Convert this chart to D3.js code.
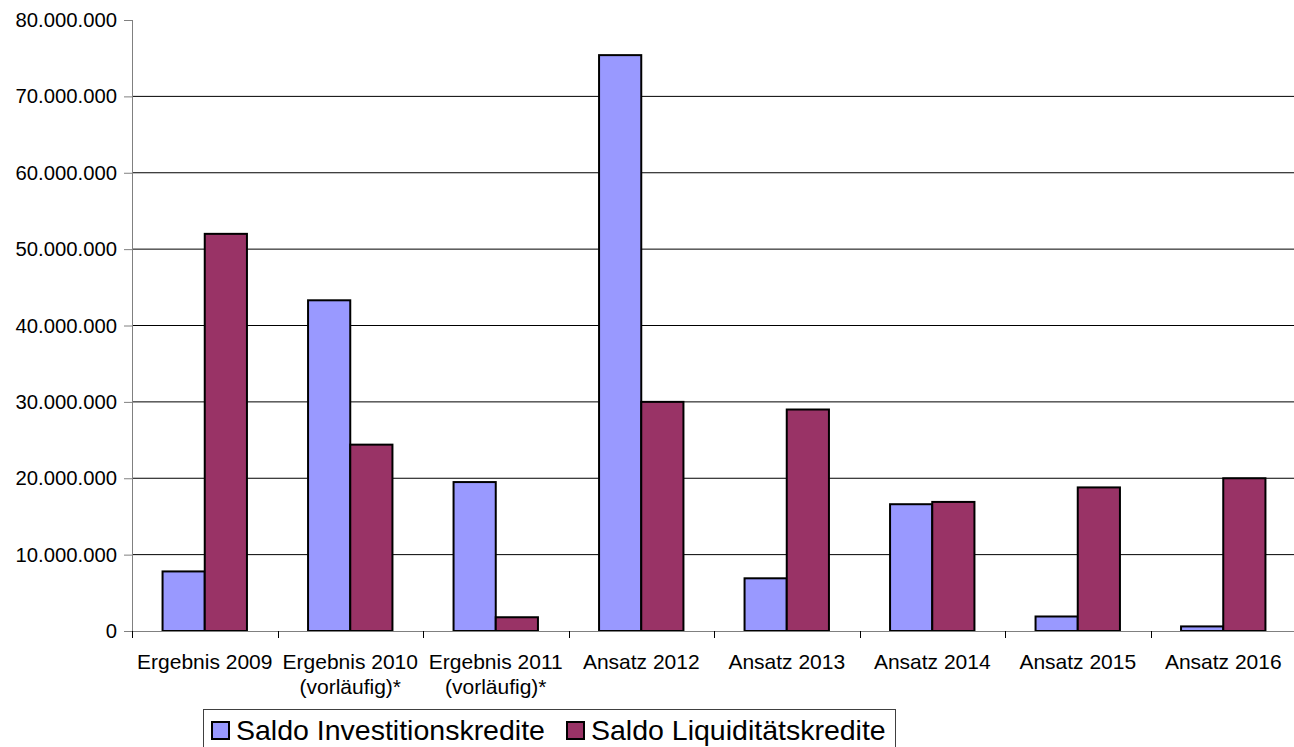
<!DOCTYPE html>
<html>
<head>
<meta charset="utf-8">
<script src="https://cdn.jsdelivr.net/npm/d3@7"></script>
<style>
  body { margin: 0; background: #fff; }
  svg { display: block; font-family: "Liberation Sans", Arial, sans-serif; }
</style>
</head>
<body>
<div id="chart"></div>
<script>
var categories = [["Ergebnis 2009"], ["Ergebnis 2010", "(vorläufig)*"], ["Ergebnis 2011", "(vorläufig)*"],
  ["Ansatz 2012"], ["Ansatz 2013"], ["Ansatz 2014"], ["Ansatz 2015"], ["Ansatz 2016"]];
var seriesNames = ["Saldo Investitionskredite", "Saldo Liquiditätskredite"];
var investition = [7800000, 43300000, 19500000, 75400000, 6900000, 16600000, 1900000, 600000];
var liquiditaet = [52000000, 24400000, 1800000, 30000000, 29000000, 16900000, 18800000, 20000000];
var yTicks = [0, 10000000, 20000000, 30000000, 40000000, 50000000, 60000000, 70000000, 80000000];
var colors = ["#9999ff", "#993366"];

var W = 1294, H = 747;
var margin = {top: 20, right: -2, bottom: 116, left: 132},
  width = W - margin.left - margin.right,
  height = H - margin.top - margin.bottom;

var de = d3.formatLocale({decimal: ",", thousands: ".", grouping: [3], currency: ["", "€"]});
var fmt = de.format(",.0f");

var svg = d3.select("#chart").append("svg")
  .attr("width", W)
  .attr("height", H);
var g = svg.append("g")
  .attr("transform", "translate(" + margin.left + "," + margin.top + ")");

var x0 = d3.scaleBand()
  .domain(d3.range(categories.length))
  .range([0, width])
  .padding(0);

var x1 = d3.scaleBand()
  .domain([0, 1])
  .range([x0.bandwidth() * 0.21, x0.bandwidth() * 0.79]);

var y = d3.scaleLinear()
  .domain([0, 80000000])
  .range([height, 0]);

// gridlines
g.append("g").selectAll("line")
  .data(yTicks.filter(function(d) { return d > 0 && d < 80000000; }))
  .enter().append("line")
  .attr("x1", 0).attr("x2", width)
  .attr("y1", function(d) { return y(d); })
  .attr("y2", function(d) { return y(d); })
  .attr("stroke", "#000")
  .attr("stroke-width", 1);

// y axis
var yAxis = g.append("g")
  .call(d3.axisLeft(y).tickValues(yTicks).tickFormat(fmt).tickSize(8).tickPadding(7));
yAxis.select(".domain").attr("stroke", "#808080").attr("d", "M0.5," + height + "V0");
yAxis.selectAll(".tick line").attr("stroke", "#808080");
yAxis.selectAll("text").attr("font-size", "20.3px").attr("fill", "#000")
  .attr("font-family", "Liberation Sans, Arial, sans-serif");

// bars
var data = categories.map(function(c, i) { return [investition[i], liquiditaet[i]]; });
var groups = g.append("g").selectAll("g")
  .data(data)
  .enter().append("g")
  .attr("transform", function(d, i) { return "translate(" + x0(i) + ",0)"; });
groups.selectAll("rect")
  .data(function(d) { return d; })
  .enter().append("rect")
  .attr("x", function(d, j) { return x1(j); })
  .attr("width", x1.bandwidth())
  .attr("y", function(d) { return y(d); })
  .attr("height", function(d) { return height - y(d); })
  .attr("fill", function(d, j) { return colors[j]; })
  .attr("stroke", "#000")
  .attr("stroke-width", 2);

// x axis
var xg = g.append("g").attr("transform", "translate(0," + height + ")");
xg.append("line")
  .attr("x1", 0).attr("x2", width)
  .attr("y1", 0.5).attr("y2", 0.5)
  .attr("stroke", "#808080");
xg.selectAll(".xtick")
  .data(d3.range(categories.length + 1))
  .enter().append("line")
  .attr("class", "xtick")
  .attr("x1", function(i) { return Math.round(i * x0.step()) + 0.5; })
  .attr("x2", function(i) { return Math.round(i * x0.step()) + 0.5; })
  .attr("y1", 0).attr("y2", 7)
  .attr("stroke", "#000");
var lab = xg.selectAll(".xlab")
  .data(categories)
  .enter().append("text")
  .attr("class", "xlab")
  .attr("text-anchor", "middle")
  .attr("font-size", "21px")
  .attr("transform", function(d, i) { return "translate(" + (x0(i) + x0.bandwidth() / 2) + ",38)"; });
lab.selectAll("tspan")
  .data(function(d) { return d; })
  .enter().append("tspan")
  .attr("x", 0)
  .attr("dy", function(d, k) { return k === 0 ? 0 : 25; })
  .text(function(d) { return d; });

// legend
var legend = svg.append("g").attr("transform", "translate(203,709)");
legend.append("rect")
  .attr("x", 0.5).attr("y", 0.5)
  .attr("width", 692).attr("height", 60)
  .attr("fill", "#fff")
  .attr("stroke", "#404040");
var itemX = [9, 364];
var item = legend.selectAll(".item")
  .data(seriesNames)
  .enter().append("g")
  .attr("class", "item")
  .attr("transform", function(d, i) { return "translate(" + itemX[i] + ",0)"; });
item.append("rect")
  .attr("x", 0).attr("y", 13)
  .attr("width", 17).attr("height", 17)
  .attr("fill", function(d, i) { return colors[i]; })
  .attr("stroke", "#000")
  .attr("stroke-width", 2);
item.append("text")
  .attr("x", 24).attr("y", 31)
  .attr("font-size", "28.5px")
  .text(function(d) { return d; });
</script>
</body>
</html>
